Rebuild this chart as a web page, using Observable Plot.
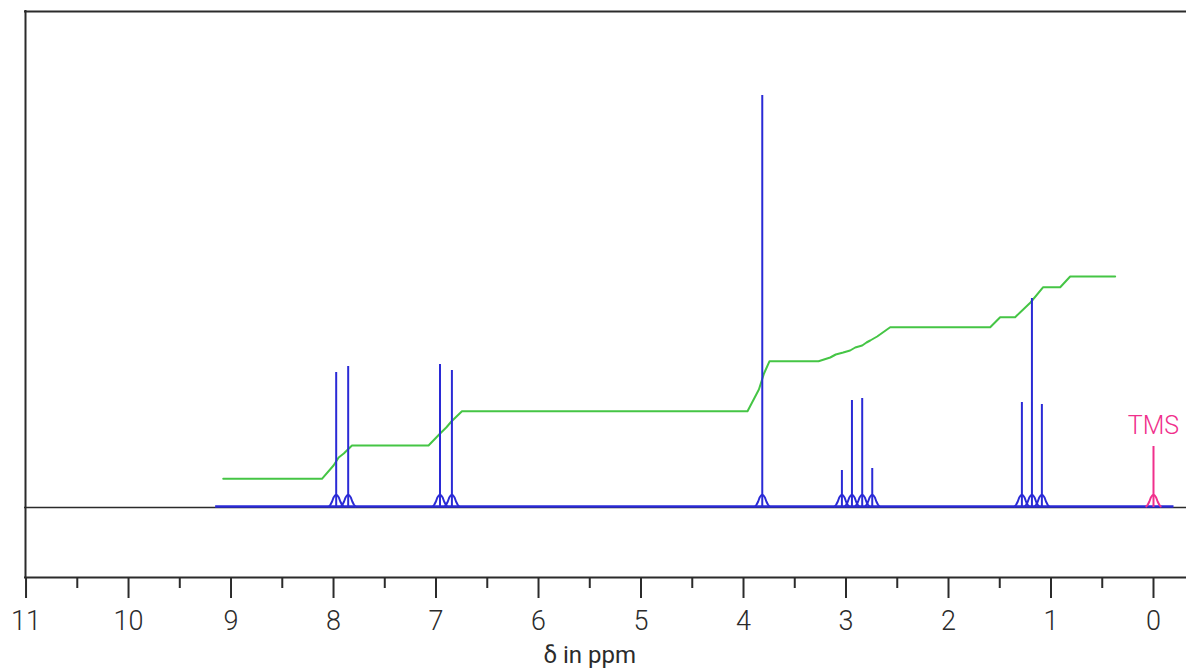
<!DOCTYPE html>
<html>
<head>
<meta charset="utf-8">
<script src="https://cdn.jsdelivr.net/npm/d3@7"></script>
<script src="https://cdn.jsdelivr.net/npm/@observablehq/plot@0.6"></script>
<style>
  html, body { margin: 0; padding: 0; background: white; }
  #chart svg { display: block; }
</style>
</head>
<body>
<div id="chart"></div>
<script>
// Peak positions (ppm) and heights (arbitrary intensity units)
const peakPpm    = [7.974, 7.857, 6.961, 6.845, 3.817, 3.040, 2.942, 2.842, 2.744, 1.284, 1.186, 1.089];
const peakHeight = [135,   141,   143,   137,   412,   37,    107,   109,   39,    105,   209,   103];
// Reference peak (TMS)
const tmsPpm = [0.0];
const tmsHeight = [61];
// Integral curve (ppm, integral value)
const integralPpm = [9.076, 8.113, 8.00, 7.95, 7.90, 7.82, 7.073, 6.96, 6.90, 6.85, 6.747, 3.961, 3.85, 3.80, 3.746, 3.268, 3.154, 3.10, 3.027, 2.96, 2.910, 2.842, 2.80, 2.764, 2.696, 2.569, 1.593, 1.496, 1.350, 1.20, 1.076, 0.910, 0.813, 0.374];
const integralVal = [28.7,  28.7,  42,   50,   54,   62,   62,    74,   80,   86,   96.3,  96.3,  118,  134,  146.3, 146.3, 150,   153,  155,   157,  160,   162,   165,  167,   171,   180.3, 180.3, 190.3, 190.3, 205,  220.3, 220.3, 231,   231];
// Spectrum baseline extent (ppm)
const baselineFrom = [9.15];
const baselineTo = [-0.2];
// Axis ticks
const majorTicks = [0,1,2,3,4,5,6,7,8,9,10,11];
const minorTicks = [0.5,1.5,2.5,3.5,4.5,5.5,6.5,7.5,8.5,9.5,10.5];

const BLUE = "#2a2ad6", GREEN = "#45c545", PINK = "#f0308c", INK = "#2b2b2b";

const peaks = peakPpm.map((p, i) => ({ppm: p, h: peakHeight[i]}));
const tms = tmsPpm.map((p, i) => ({ppm: p, h: tmsHeight[i]}));
const integral = integralPpm.map((p, i) => ({ppm: p, v: integralVal[i]}));

// small base "bump" outline around each line
const bumpShape = [[-0.07,0],[-0.055,2],[-0.04,5],[-0.026,9],[-0.012,11],[0,11.5],[0.012,11],[0.026,9],[0.04,5],[0.055,2],[0.07,0]];
const bumps = (arr) => arr.flatMap((d, i) => bumpShape.map(([dx, dy]) => ({id: i, ppm: d.ppm + dx, v: dy})));

const chart = Plot.plot({
  width: 1186,
  height: 670,
  marginLeft: 24,
  marginRight: 0,
  marginTop: 10,
  marginBottom: 93,
  x: {domain: [11.015, -0.322], label: null},
  y: {domain: [-70, 497], axis: null},
  style: {fontFamily: "Roboto, 'DejaVu Sans', sans-serif", background: "white", color: INK},
  marks: [
    // frame: left and top edges, bottom axis line
    Plot.ruleX([11.015], {stroke: INK, strokeWidth: 2, dx: 1}),
    Plot.ruleY([497], {stroke: INK, strokeWidth: 2, dy: 1}),
    Plot.ruleY([-70], {stroke: INK, strokeWidth: 2}),
    // zero line
    Plot.ruleY([0], {stroke: INK, strokeWidth: 1.6}),
    // axis ticks
    Plot.axisX(majorTicks, {tickSize: 21, tickPadding: 12, stroke: INK, strokeWidth: 2, fill: INK, fontSize: 27, fontWeight: 300, label: null, tickFormat: d => String(d)}),
    Plot.axisX(minorTicks, {tickSize: 11, text: null, stroke: INK, strokeWidth: 2, label: null}),
    // axis title
    Plot.text(["δ in ppm"], {x: () => 5.5, text: d => d, frameAnchor: "bottom", dy: 85, fontSize: 24, fill: INK}),
    // integral
    Plot.line(integral, {x: "ppm", y: "v", stroke: GREEN, strokeWidth: 2, curve: "linear"}),
    // spectrum baseline
    Plot.ruleY([0], {x1: baselineFrom[0], x2: baselineTo[0], stroke: BLUE, strokeWidth: 2.5, dy: -1}),
    // peak bumps
    Plot.line(bumps(peaks), {x: "ppm", y: "v", z: "id", stroke: BLUE, strokeWidth: 2, dy: -1}),
    Plot.ruleX(peaks, {x: "ppm", y1: 0, y2: "h", stroke: BLUE, strokeWidth: 2}),
    // TMS
    Plot.line(bumps(tms), {x: "ppm", y: "v", z: "id", stroke: PINK, strokeWidth: 2, dy: -1}),
    Plot.ruleX(tms, {x: "ppm", y1: 0, y2: "h", stroke: PINK, strokeWidth: 2}),
    Plot.text(tms, {x: "ppm", y: "h", text: () => "TMS", dy: -21, fill: PINK, fontSize: 25, fontWeight: 300})
  ]
});
document.getElementById("chart").appendChild(chart);
</script>
</body>
</html>
